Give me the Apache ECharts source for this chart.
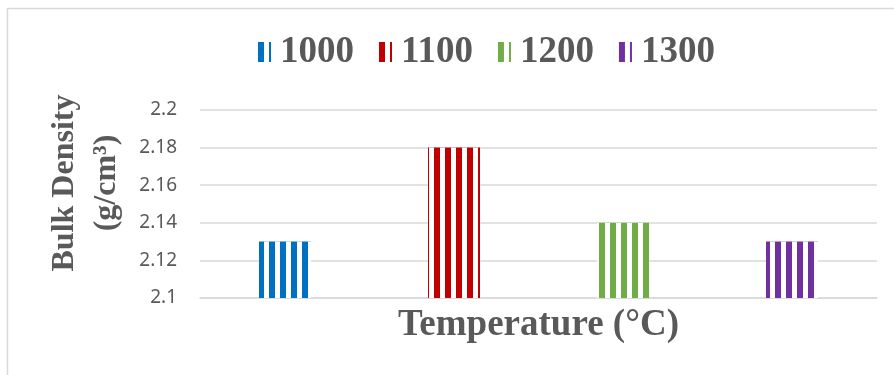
<!DOCTYPE html>
<html>
<head>
<meta charset="utf-8">
<style>
  html, body { margin: 0; padding: 0; background: #fff; }
  #chart { width: 894px; height: 375px; }
</style>
<script src="https://cdn.jsdelivr.net/npm/echarts@6/dist/echarts.min.js"></script>
</head>
<body>
<div id="chart"></div>
<script>
// Sintering temperatures (°C) and measured bulk density (g/cm³)
const temperatures = ['1000', '1100', '1200', '1300'];
const bulkDensity = [2.13, 2.18, 2.14, 2.13];
const barColors = ['#0070C0', '#C00000', '#70AD47', '#7030A0'];
const yTicks = { min: 2.1, max: 2.2, interval: 0.02 };

const serif = '"Liberation Serif", "Times New Roman", serif';
const textGray = '#595959';
const gridGray = '#d9d9d9';

// white vertical gaps cut into the coloured bar fill
const stripeGaps = {
  color: '#ffffff',
  symbol: 'rect',
  symbolSize: 1,
  symbolKeepAspect: false,
  dashArrayX: [5, 6],
  dashArrayY: [1, 0],
  rotation: 0
};

const series = temperatures.map((t, i) => ({
  name: t,
  type: 'bar',
  data: [bulkDensity[i]],
  barWidth: 52,
  barGap: '225%',
  itemStyle: {
    color: barColors[i],
    decal: stripeGaps
  }
}));

const chart = echarts.init(document.getElementById('chart'), null, { renderer: 'canvas' });
chart.setOption({
  animation: false,
  backgroundColor: '#ffffff',
  grid: { left: 200, right: 17, top: 110, bottom: 77 },
  legend: {
    left: 248,
    top: 27,
    icon: 'rect',
    itemWidth: 18,
    itemHeight: 20,
    itemGap: 20,
    data: temperatures,
    textStyle: {
      fontFamily: serif,
      fontWeight: 'bold',
      fontSize: 37,
      lineHeight: 40,
      color: textGray,
      padding: [0, 0, 0, 4]
    }
  },
  xAxis: {
    type: 'category',
    data: [''],
    axisTick: { show: false },
    axisLabel: { show: false },
    axisLine: { lineStyle: { color: gridGray, width: 1.5 } },
    name: 'Temperature (°C)',
    nameLocation: 'middle',
    nameGap: 8,
    nameTextStyle: {
      fontFamily: serif,
      fontWeight: 'bold',
      fontSize: 37,
      lineHeight: 38,
      color: textGray,
      verticalAlign: 'top'
    }
  },
  yAxis: {
    type: 'value',
    min: yTicks.min,
    max: yTicks.max,
    interval: yTicks.interval,
    axisLine: { show: false },
    axisTick: { show: false },
    splitLine: { lineStyle: { color: gridGray, width: 1.5 } },
    axisLabel: {
      margin: 23,
      fontFamily: '"Noto Sans", sans-serif',
      fontSize: 19,
      color: textGray,
      formatter: v => String(+v.toFixed(2))
    },
    name: 'Bulk Density\n(g/cm³)',
    nameLocation: 'middle',
    nameRotate: 90,
    nameGap: 72,
    nameTextStyle: {
      fontFamily: serif,
      fontWeight: 'bold',
      fontSize: 32,
      lineHeight: 42,
      color: textGray,
      padding: [0, 0, 0, 42]
    }
  },
  series: series,
  graphic: [
    { type: 'line', shape: { x1: 7, y1: 8.5, x2: 894, y2: 8.5 }, style: { stroke: gridGray, lineWidth: 1.5 } },
    { type: 'line', shape: { x1: 7.5, y1: 8, x2: 7.5, y2: 375 }, style: { stroke: gridGray, lineWidth: 1.5 } }
  ]
});
</script>
</body>
</html>
